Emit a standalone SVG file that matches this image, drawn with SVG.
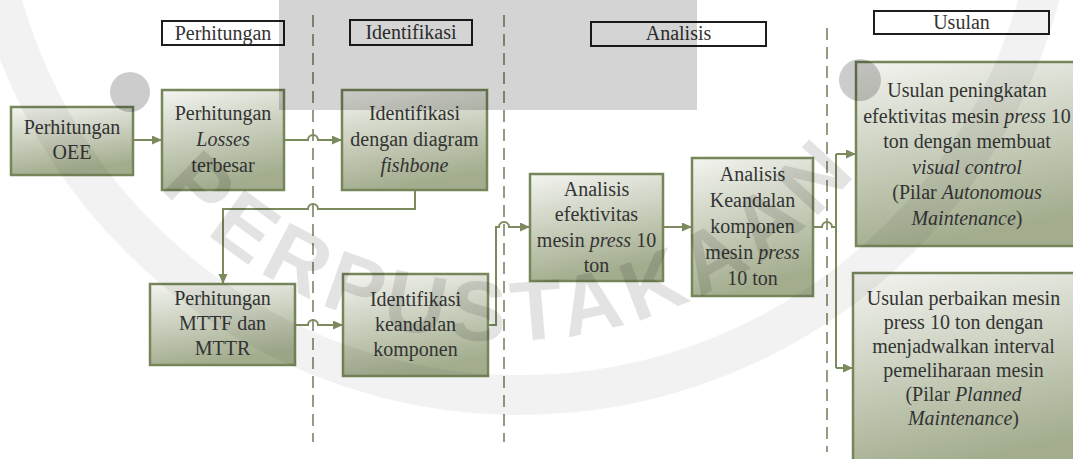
<svg xmlns="http://www.w3.org/2000/svg" width="1073" height="459" viewBox="0 0 1073 459">
<style>
.t{font-family:"Liberation Serif","Times New Roman",serif;font-size:20px;fill:#333;text-anchor:middle}
.i{font-style:italic}
.hdr{fill:none;stroke:#1e1e1e;stroke-width:2}
.node{fill:url(#g);stroke:#76865a;stroke-width:2.5}
.dash{stroke:#6f7f55;stroke-width:1.5;stroke-dasharray:12 7;fill:none}
.con{fill:none;stroke:#7b8b5e;stroke-width:2}
.arr{marker-end:url(#ah)}
</style>
<defs>
<linearGradient id="g" x1="0" y1="0" x2="0.25" y2="1">
<stop offset="0" stop-color="#f3f4f0"/>
<stop offset="1" stop-color="#a3ad8e"/>
</linearGradient>
<marker id="ah" markerUnits="userSpaceOnUse" markerWidth="11" markerHeight="10" refX="10" refY="4.5" orient="auto">
<path d="M0,0 L10,4.5 L0,9 z" fill="#7b8b5e"/>
</marker>
<path id="wmArc" d="M71.6,39.6 A458,458 0 0 0 932.4,39.6"/>
</defs>
<rect width="1073" height="459" fill="#fff"/>
<g id="headers">
<g id="h-perhitungan"><rect class="hdr" x="162" y="21" width="122" height="24"/><text class="t" x="223" y="40">Perhitungan</text></g>
<g id="h-identifikasi"><rect class="hdr" x="350" y="20" width="122" height="25"/><text class="t" x="411" y="39">Identifikasi</text></g>
<g id="h-analisis"><rect class="hdr" x="591" y="22" width="175" height="24"/><text class="t" x="678.5" y="40">Analisis</text></g>
<g id="h-usulan"><rect class="hdr" x="874" y="11" width="175" height="23"/><text class="t" x="961.5" y="29">Usulan</text></g>
</g>
<g id="dividers">
<path class="dash" d="M313,15 V442"/>
<path class="dash" d="M504,15 V442"/>
<path class="dash" d="M827,28 V452"/>
</g>
<g id="connectors">
<path class="con arr" d="M133,140 H162"/>
<path class="con arr" d="M284,140 H308 a5,5 0 0 1 10,0 H342"/>
<path class="con arr" d="M415,190 V209 H318 a5,5 0 0 0 -10,0 H223 V284"/>
<path class="con arr" d="M295,325 H308 a5,5 0 0 1 10,0 H343"/>
<path class="con arr" d="M488,325 H496 V227 H499 a5,5 0 0 1 10,0 H530"/>
<path class="con arr" d="M663,227 H692"/>
<path class="con" d="M813,227 H822 a5,5 0 0 1 10,0 H836"/>
<path class="con" d="M836,154 V368"/>
<path class="con arr" d="M836,154 H856"/>
<path class="con arr" d="M836,368 H853"/>
</g>
<g id="n-oee"><rect class="node" x="11" y="107" width="122" height="68"/>
<text class="t"><tspan x="72" y="134">Perhitungan</tspan><tspan x="72" y="159">OEE</tspan></text></g>
<g id="n-losses"><rect class="node" x="162" y="90" width="122" height="100"/>
<text class="t"><tspan x="223" y="120">Perhitungan</tspan><tspan x="223" y="146" class="i">Losses</tspan><tspan x="223" y="172">terbesar</tspan></text></g>
<g id="n-fishbone"><rect class="node" x="342" y="90" width="145" height="100"/>
<text class="t"><tspan x="414.5" y="120">Identifikasi</tspan><tspan x="414.5" y="146">dengan diagram</tspan><tspan x="414.5" y="172" class="i">fishbone</tspan></text></g>
<g id="n-mttf"><rect class="node" x="150" y="284" width="145" height="81"/>
<text class="t"><tspan x="222.5" y="305">Perhitungan</tspan><tspan x="222.5" y="330">MTTF dan</tspan><tspan x="222.5" y="355">MTTR</tspan></text></g>
<g id="n-keandalan"><rect class="node" x="343" y="274" width="145" height="102"/>
<text class="t"><tspan x="415.5" y="306">Identifikasi</tspan><tspan x="415.5" y="331">keandalan</tspan><tspan x="415.5" y="356">komponen</tspan></text></g>
<g id="n-efektivitas"><rect class="node" x="530" y="174" width="133" height="107"/>
<text class="t"><tspan x="596.5" y="196">Analisis</tspan><tspan x="596.5" y="221">efektivitas</tspan><tspan x="596.5" y="247">mesin <tspan class="i">press</tspan> 10</tspan><tspan x="596.5" y="272">ton</tspan></text></g>
<g id="n-analisis-keandalan"><rect class="node" x="692" y="158" width="121" height="138"/>
<text class="t"><tspan x="752.5" y="181">Analisis</tspan><tspan x="752.5" y="207">Keandalan</tspan><tspan x="752.5" y="233">komponen</tspan><tspan x="752.5" y="259">mesin <tspan class="i">press</tspan></tspan><tspan x="752.5" y="285">10 ton</tspan></text></g>
<g id="n-usulan1"><rect class="node" x="856" y="62" width="232" height="184"/>
<text class="t"><tspan x="967" y="97">Usulan peningkatan</tspan><tspan x="967" y="122.5">efektivitas mesin <tspan class="i">press</tspan> 10</tspan><tspan x="967" y="148">ton dengan membuat</tspan><tspan x="967" y="173.5" class="i">visual control</tspan><tspan x="967" y="199">(Pilar <tspan class="i">Autonomous</tspan></tspan><tspan x="967" y="224.5"><tspan class="i">Maintenance</tspan>)</tspan></text></g>
<g id="n-usulan2"><rect class="node" x="853" y="273" width="232" height="200"/>
<text class="t"><tspan x="963.5" y="305">Usulan perbaikan mesin</tspan><tspan x="963.5" y="329">press 10 ton dengan</tspan><tspan x="963.5" y="353">menjadwalkan interval</tspan><tspan x="963.5" y="377">pemeliharaan mesin</tspan><tspan x="963.5" y="401">(Pilar <tspan class="i">Planned</tspan></tspan><tspan x="963.5" y="425"><tspan class="i">Maintenance</tspan>)</tspan></text></g>
<g id="watermark">
<circle cx="520" cy="-143" r="538" fill="none" stroke="#000" stroke-opacity="0.05" stroke-width="40"/>
<rect x="279" y="0" width="418" height="110" fill="#000" fill-opacity="0.17"/>
<circle cx="130" cy="92" r="20" fill="#000" fill-opacity="0.2"/>
<circle cx="860" cy="80" r="21" fill="#000" fill-opacity="0.2"/>
<text font-family="Liberation Sans, Arial, sans-serif" font-weight="bold" font-size="85" fill="#000" fill-opacity="0.11" letter-spacing="8"><textPath href="#wmArc" startOffset="173">PERPUSTAKAAN</textPath></text>
</g>
</svg>
